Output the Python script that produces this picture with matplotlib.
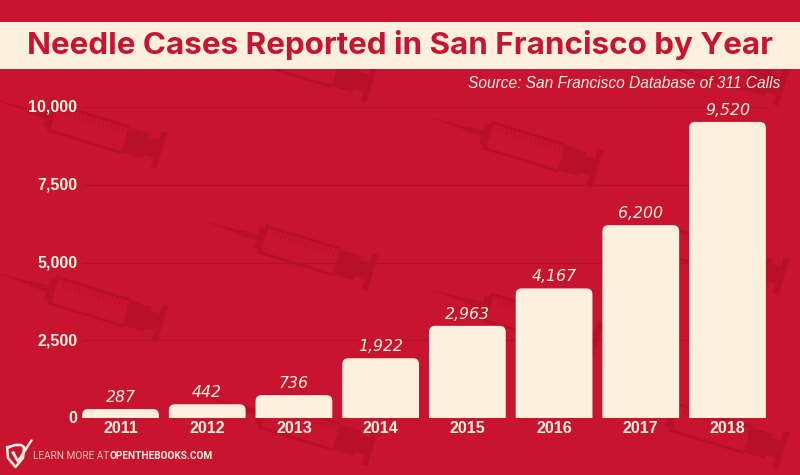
import matplotlib
matplotlib.use('Agg')
import numpy as np
import matplotlib.pyplot as plt
from matplotlib.patches import FancyBboxPatch, Polygon, Rectangle
from matplotlib.transforms import Affine2D, ScaledTranslation

years = ['2011', '2012', '2013', '2014', '2015', '2016', '2017', '2018']
cases = [287, 442, 736, 1922, 2963, 4167, 6200, 9520]
case_labels = ['287', '442', '736', '1,922', '2,963', '4,167', '6,200', '9,520']
y_ticks = [0, 2500, 5000, 7500, 10000]
y_tick_labels = ['0', '2,500', '5,000', '7,500', '10,000']

title = 'Needle Cases Reported in San Francisco by Year'
source = 'Source: San Francisco Database of 311 Calls'

RED = '#C8142F'
DARK = '#B81027'
GRID = '#B11129'
CREAM = '#FDF0DF'
W, H = 800, 475

fig = plt.figure(figsize=(8, 4.75), dpi=100, facecolor=RED)

# background layer, drawn in pixel coordinates
bg = fig.add_axes([0, 0, 1, 1], zorder=0)
bg.set_xlim(0, W)
bg.set_ylim(H, 0)
bg.axis('off')


def syringe(cx, cy):
    # template runs along u from the needle tip to the plunger bar
    rects = [(42, 60, 3), (60, 65, 11), (65, 68, 15), (165, 175, 9),
             (143, 165, 13), (175, 181, 19)]
    tr = (Affine2D().translate(-178, 0).rotate_deg(17)
          .translate(cx, cy) + bg.transData)
    bg.add_patch(Polygon([(0, 0), (42, -1.6), (42, 1.6)], color=DARK, lw=0, transform=tr))
    for u0, u1, hw in rects:
        bg.add_patch(Rectangle((u0, -hw), u1 - u0, 2 * hw, color=DARK, lw=0, transform=tr))
    for v0 in (-15, 12):
        bg.add_patch(Rectangle((65, v0), 78, 3, color=DARK, lw=0, transform=tr))
    for u in np.arange(74, 142, 4.2):
        bg.add_patch(Rectangle((u, -11), 1.4, 6, color=DARK, alpha=0.7, lw=0, transform=tr))


for cx, cy in [(159, 150), (369, 84), (595, 168), (370, 272), (160, 323),
               (781, 87), (595, 340), (781, 276), (781, 450), (370, 447)]:
    syringe(cx, cy)

# title banner
bg.add_patch(Rectangle((0, 22), W, 47, color=CREAM, lw=0, zorder=5))
bg.text(400, 45.5, title, color=RED, fontsize=22.6, fontweight='bold', family='Inter',
        ha='center', va='center', zorder=6)
bg.text(780, 83, source, color=CREAM, fontsize=11.2, style='italic', family='Liberation Sans',
        ha='right', va='center', zorder=6)

# footer logo and link
bg.plot([9, 15, 21, 24, 23, 15.5, 8, 7, 9], [447, 445, 445, 447, 458, 467, 458, 447, 447],
        color=CREAM, lw=1.8, solid_joinstyle='round')
bg.add_patch(Polygon([(11, 452), (14, 451), (18, 459), (31, 439), (33, 440), (18, 464)],
                     color=CREAM, lw=0))
bg.text(33, 456, 'LEARN MORE AT', color='#F3C6BC', fontsize=7.2, family='Roboto', va='center')
bg.text(110, 456, 'OPENTHEBOOKS.COM', color=CREAM, fontsize=7.3, family='Roboto',
        fontweight='bold', va='center')

# chart layer
ax = fig.add_axes([82 / W, 1 - 418 / H, 684 / W, 311 / H], zorder=2)
ax.patch.set_alpha(0)
x = np.arange(len(years))
ax.set_xlim(-0.444, 7.444)
ax.set_ylim(0, 10000)
bar_w = 0.885

# rounded tops only: the boxes start below zero and the axes clip them
r_x = 6 / (684 / (ax.get_xlim()[1] - ax.get_xlim()[0]))
r_y = 6 / (311 / 10000)
for xi, val in zip(x, cases):
    ax.add_patch(FancyBboxPatch((xi - bar_w / 2, -r_y), bar_w, val + r_y,
                                boxstyle='round,pad=0,rounding_size=%f' % r_x,
                                mutation_aspect=r_y / r_x, fc=CREAM, ec='none', zorder=3))

for xi, val, lab in zip(x, cases, case_labels):
    ax.annotate(lab, (xi, val), xytext=(0, 5), textcoords='offset points', ha='center',
                va='baseline', color=CREAM, fontsize=11.3, style='italic', family='DejaVu Sans')

ax.set_xticks(x, years)
ax.set_yticks(y_ticks, y_tick_labels)
ax.tick_params(length=0, colors=CREAM)
ax.tick_params(axis='x', pad=2.3)
ax.tick_params(axis='y', pad=3.5)
for lab in ax.get_xticklabels() + ax.get_yticklabels():
    lab.set_family('Liberation Sans')
    lab.set_fontweight('bold')
    lab.set_fontsize(11.5)
# y labels sit a pixel higher in the original
nudge = ScaledTranslation(0, 1 / 100, fig.dpi_scale_trans)
for lab in ax.get_yticklabels():
    lab.set_transform(lab.get_transform() + nudge)
ax.set_axisbelow(True)
ax.grid(axis='y', color=GRID, lw=1)
for s in ax.spines.values():
    s.set_visible(False)

fig.savefig('out.png', dpi=100, facecolor=RED)
